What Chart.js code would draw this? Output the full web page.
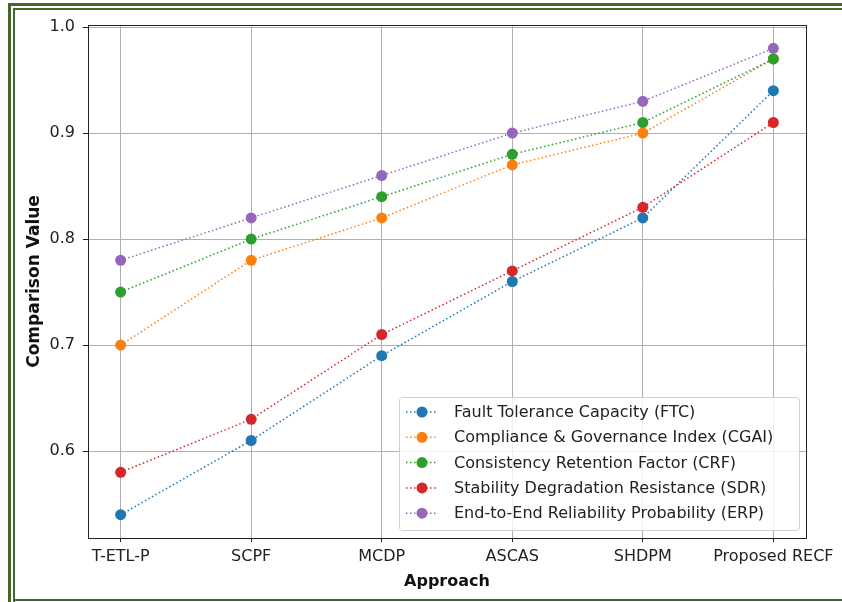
<!DOCTYPE html>
<html>
<head>
<meta charset="utf-8">
<script src="https://cdn.jsdelivr.net/npm/chart.js@4.4.1/dist/chart.umd.min.js"></script>
<style>
    html, body { margin: 0; padding: 0; background: #fff; overflow: hidden; width: 842px; height: 602px; }
    #wrap { position: relative; width: 842px; height: 602px; overflow: hidden; }
    #chart { position: absolute; left: 0; top: 0; }
    .edge { position: absolute; background: #44662a; }
</style>
</head>
<body>
<div id="wrap">
    <canvas id="chart" width="842" height="602"></canvas>
    <!-- double green page frame, open on the right -->
    <div class="edge" style="left:8px; top:3px; width:3px; height:620px;"></div>
    <div class="edge" style="left:8px; top:3px; width:900px; height:3px;"></div>
    <div class="edge" style="left:13px; top:8px; width:2px; height:620px;"></div>
    <div class="edge" style="left:13px; top:8px; width:900px; height:2px;"></div>
    <div class="edge" style="left:13px; top:599px; width:900px; height:2px;"></div>
</div>
<script>
// categories on the x axis
const approaches = ['T-ETL-P', 'SCPF', 'MCDP', 'ASCAS', 'SHDPM', 'Proposed RECF'];

// series values
const ftc  = [0.54, 0.61, 0.69, 0.76, 0.82, 0.94];
const cgai = [0.70, 0.78, 0.82, 0.87, 0.90, 0.97];
const crf  = [0.75, 0.80, 0.84, 0.88, 0.91, 0.97];
const sdr  = [0.58, 0.63, 0.71, 0.77, 0.83, 0.91];
const erp  = [0.78, 0.82, 0.86, 0.90, 0.93, 0.98];

const seriesLabels = [
    'Fault Tolerance Capacity (FTC)',
    'Compliance & Governance Index (CGAI)',
    'Consistency Retention Factor (CRF)',
    'Stability Degradation Resistance (SDR)',
    'End-to-End Reliability Probability (ERP)'
];
const seriesColors = ['#1f77b4', '#ff7f0e', '#2ca02c', '#d62728', '#9467bd'];

// tick labels
const yTicks = [0.6, 0.7, 0.8, 0.9, 1.0];

const FONT = 'DejaVu Sans';

// matplotlib-like legend drawn inside the plot, lower right
const boxLegend = {
    id: 'boxLegend',
    afterDatasetsDraw(chart) {
        const ctx = chart.ctx;
        const area = chart.chartArea;
        const rowH = 25.3;
        const boxW = 400, boxH = 133;
        const right = area.right - 7, bottom = area.bottom - 8;
        const left = right - boxW, top = bottom - boxH;

        ctx.save();
        ctx.fillStyle = 'rgba(255,255,255,0.8)';
        ctx.strokeStyle = '#d0d0d0';
        ctx.lineWidth = 1;
        ctx.beginPath();
        ctx.roundRect(left + 0.5, top + 0.5, boxW, boxH, 3);
        ctx.fill();
        ctx.stroke();

        ctx.font = '16px "' + FONT + '"';
        ctx.textBaseline = 'middle';
        chart.data.datasets.forEach((ds, i) => {
            const y = top + 15 + i * rowH;
            ctx.strokeStyle = ds.borderColor;
            ctx.lineWidth = 1.5;
            ctx.setLineDash([1.5, 2.5]);
            ctx.beginPath();
            ctx.moveTo(left + 7, y);
            ctx.lineTo(left + 38, y);
            ctx.stroke();
            ctx.setLineDash([]);
            ctx.fillStyle = ds.backgroundColor;
            ctx.beginPath();
            ctx.arc(left + 23, y, 5.5, 0, Math.PI * 2);
            ctx.fill();
            ctx.fillStyle = '#222';
            ctx.fillText(ds.label, left + 55, y + 1);
        });
        ctx.restore();
    }
};

// axes frame on all four sides
const axesFrame = {
    id: 'axesFrame',
    beforeDatasetsDraw(chart) {
        const a = chart.chartArea;
        const ctx = chart.ctx;
        ctx.save();
        ctx.strokeStyle = '#222';
        ctx.lineWidth = 1;
        ctx.strokeRect(Math.round(a.left) + 0.5, Math.round(a.top) + 0.5,
            Math.round(a.right - a.left), Math.round(a.bottom - a.top));
        ctx.restore();
    }
};

const allSeries = [ftc, cgai, crf, sdr, erp];

new Chart(document.getElementById('chart'), {
    type: 'line',
    data: {
        datasets: allSeries.map((vals, i) => ({
            label: seriesLabels[i],
            data: vals.map((v, j) => ({ x: j, y: v })),
            borderColor: seriesColors[i],
            backgroundColor: seriesColors[i],
            borderWidth: 1.5,
            borderDash: [1.5, 2.5],
            pointRadius: 5.5,
            pointHoverRadius: 5.5,
            pointBorderWidth: 0,
            tension: 0,
            order: 5 - i
        }))
    },
    options: {
        responsive: false,
        animation: false,
        events: [],
        layout: { padding: { left: 0, top: 25, right: 36, bottom: 0 } },
        plugins: {
            legend: { display: false },
            tooltip: { enabled: false }
        },
        scales: {
            x: {
                type: 'linear',
                min: -0.25,
                max: 5.25,
                afterBuildTicks: (scale) => {
                    scale.ticks = approaches.map((_, i) => ({ value: i }));
                },
                afterFit: (scale) => { scale.height = 64; },
                grid: { color: '#b0b0b0', lineWidth: 1, tickLength: 4, tickColor: '#222', drawOnChartArea: true },
                border: { display: false },
                ticks: {
                    padding: 5,
                    maxRotation: 0,
                    autoSkip: false,
                    color: '#222',
                    font: { family: FONT, size: 16 },
                    callback: (v) => approaches[v]
                },
                title: {
                    display: true,
                    text: 'Approach',
                    color: '#111',
                    font: { family: FONT, size: 16, weight: 'bold' },
                    padding: { top: 0, bottom: 11 }
                }
            },
            y: {
                min: 0.518,
                max: 1.002,
                afterBuildTicks: (scale) => {
                    scale.ticks = yTicks.map(v => ({ value: v }));
                },
                afterFit: (scale) => { scale.width = 88; },
                grid: { color: '#b0b0b0', lineWidth: 1, tickLength: 5, tickColor: '#222' },
                border: { display: false },
                ticks: {
                    padding: 8,
                    color: '#222',
                    font: { family: FONT, size: 16 },
                    callback: (v) => v.toFixed(1)
                },
                title: {
                    display: true,
                    text: 'Comparison Value',
                    color: '#111',
                    font: { family: FONT, size: 17, weight: 'bold' },
                    padding: { top: 24, bottom: 0 }
                }
            }
        }
    },
    plugins: [axesFrame, boxLegend]
});
</script>
</body>
</html>
